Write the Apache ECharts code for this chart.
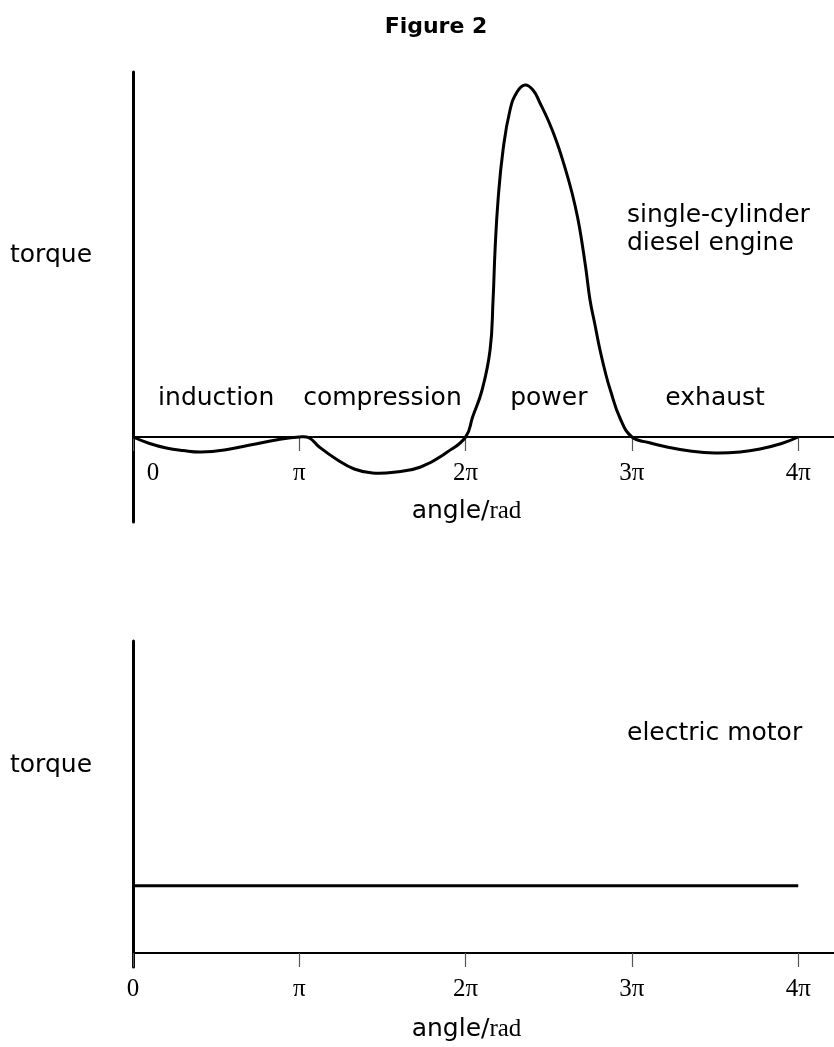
<!DOCTYPE html>
<html>
<head>
<meta charset="utf-8">
<script src="https://cdn.jsdelivr.net/npm/echarts@6/dist/echarts.min.js"></script>
<style>
html, body { margin: 0; padding: 0; background: #fff; }
#main { width: 834px; height: 1047px; }
</style>
</head>
<body>
<div id="main"></div>
<script>
var myChart = echarts.init(document.getElementById('main'));

// angle in multiples of pi, torque in arbitrary units
var engineAngle = [0, 0.1, 0.2, 0.3, 0.41, 0.55, 0.72, 0.86, 1.0,
    1.06, 1.12, 1.23, 1.33, 1.44, 1.58, 1.73, 1.89, 2.0,
    2.042, 2.099, 2.147, 2.165, 2.177, 2.195, 2.225, 2.267, 2.309, 2.357,
    2.405, 2.447, 2.501, 2.55, 2.598, 2.64, 2.674, 2.7, 2.724, 2.748, 2.778, 2.808, 2.844, 2.87, 2.928, 3.0,
    3.1, 3.21, 3.35, 3.5, 3.65, 3.77, 3.9, 4.0];
var engineTorque = [0, -0.65, -1.1, -1.35, -1.5, -1.3, -0.75, -0.3, 0,
    -0.1, -1.0, -2.3, -3.2, -3.6, -3.5, -3.0, -1.5, 0,
    2.0, 4.7, 8.7, 13.7, 18.7, 23.7, 28.7, 32.7, 34.5, 35.2,
    34.7, 33.4, 31.5, 29.4, 26.9, 24.4, 21.9, 19.4, 16.7, 13.7, 11.2, 8.7, 6.2, 4.7, 1.9, 0,
    -0.55, -1.0, -1.4, -1.6, -1.5, -1.2, -0.65, 0];

var motorAngle = [0, 4];
var motorTorque = [6.7, 6.7];

var phaseNames = ['induction', 'compression', 'power', 'exhaust'];
var phaseMid = [0.5, 1.5, 2.5, 3.5];
var phaseLabelY = 3.9;

var tickValues = [0, 1, 2, 3, 4];

function zip(a, b) {
    var out = [];
    for (var i = 0; i < a.length; i++) out.push([a[i], b[i]]);
    return out;
}

function piLabel(shiftZero) {
    return function (v) {
        if (tickValues.indexOf(v) < 0) return '';
        if (v === 0) return shiftZero ? '{z|0}' : '0';
        if (v === 1) return 'π';
        return v + 'π';
    };
}

var serif = 'Liberation Serif';
var sans = 'DejaVu Sans';

function xAxisOf(idx, shiftZero, offset, nameGap) {
    return {
        type: 'value',
        gridIndex: idx,
        min: 0,
        max: 4.215,
        interval: 1,
        position: 'bottom',
        offset: offset,
        axisLine: { onZero: false, lineStyle: { color: '#000', width: 2 } },
        axisTick: { show: true, length: 14, lineStyle: { color: '#555', width: 1.2 } },
        axisLabel: {
            margin: 24,
            formatter: piLabel(shiftZero),
            color: '#000',
            fontFamily: serif,
            fontSize: 25,
            showMaxLabel: false,
            rich: { z: { padding: [0, 0, 0, 40], fontFamily: serif, fontSize: 25, color: '#000' } }
        },
        splitLine: { show: false },
        name: '{a|angle/}{b|rad}',
        nameLocation: 'middle',
        nameGap: nameGap,
        nameTextStyle: {
            padding: [0, 34, 0, 0],
            rich: {
                a: { fontFamily: sans, fontSize: 25, color: '#000' },
                b: { fontFamily: serif, fontSize: 25, color: '#000' }
            }
        }
    };
}

function yAxisOf(idx, min, max) {
    return {
        type: 'value',
        gridIndex: idx,
        min: min,
        max: max,
        axisLine: { show: true, onZero: false, lineStyle: { color: '#000', width: 3 } },
        axisTick: { show: false },
        axisLabel: { show: false },
        splitLine: { show: false }
    };
}

// smooth curve through the read points
function renderEngine(params, api) {
    if (params.dataIndex !== 0) return null;
    var pts = [];
    for (var i = 0; i < engineAngle.length; i++) {
        pts.push(api.coord([engineAngle[i], engineTorque[i]]));
    }
    return {
        type: 'polyline',
        silent: true,
        shape: { points: pts, smooth: 0.45 },
        style: { stroke: '#000', lineWidth: 3, fill: 'none', lineJoin: 'round' }
    };
}

var option = {
    backgroundColor: '#fff',
    animation: false,
    title: {
        text: 'Figure 2',
        left: 431,
        top: 11,
        textAlign: 'center',
        textStyle: { fontFamily: sans, fontWeight: 'bold', fontSize: 22, color: '#000' }
    },
    grid: [
        { left: 133, top: 72, right: 0, bottom: 525 },
        { left: 133, top: 641, right: 0, bottom: 80 }
    ],
    xAxis: [xAxisOf(0, true, -85, 62), xAxisOf(1, false, -14, 64)],
    yAxis: [yAxisOf(0, -8.5, 36.5), yAxisOf(1, -1.4, 31.1)],
    graphic: [
        { type: 'text', x: 10, y: 255, style: { text: 'torque', font: '25px "' + sans + '"', fill: '#000', verticalAlign: 'middle' } },
        { type: 'text', x: 10, y: 765, style: { text: 'torque', font: '25px "' + sans + '"', fill: '#000', verticalAlign: 'middle' } },
        { type: 'text', x: 627, y: 229, style: { text: 'single-cylinder\ndiesel engine', font: '25px "' + sans + '"', lineHeight: 28, fill: '#000', verticalAlign: 'middle' } },
        { type: 'text', x: 627, y: 733, style: { text: 'electric motor', font: '25px "' + sans + '"', fill: '#000', verticalAlign: 'middle' } }
    ],
    series: [
        {
            name: 'diesel',
            type: 'custom',
            xAxisIndex: 0,
            yAxisIndex: 0,
            data: zip(engineAngle, engineTorque),
            encode: { x: 0, y: 1 },
            renderItem: renderEngine,
            clip: false,
            z: 3
        },
        {
            name: 'phases',
            type: 'scatter',
            xAxisIndex: 0,
            yAxisIndex: 0,
            symbolSize: 0,
            itemStyle: { opacity: 1 },
            data: phaseMid.map(function (m, i) { return { value: [m, phaseLabelY], name: phaseNames[i] }; }),
            label: {
                show: true,
                position: 'inside',
                formatter: '{b}',
                fontFamily: sans,
                fontSize: 25,
                color: '#000',
                opacity: 1
            }
        },
        {
            name: 'motor',
            type: 'line',
            xAxisIndex: 1,
            yAxisIndex: 1,
            data: zip(motorAngle, motorTorque),
            symbol: 'none',
            lineStyle: { color: '#000', width: 3 }
        }
    ]
};

myChart.setOption(option);
</script>
</body>
</html>
